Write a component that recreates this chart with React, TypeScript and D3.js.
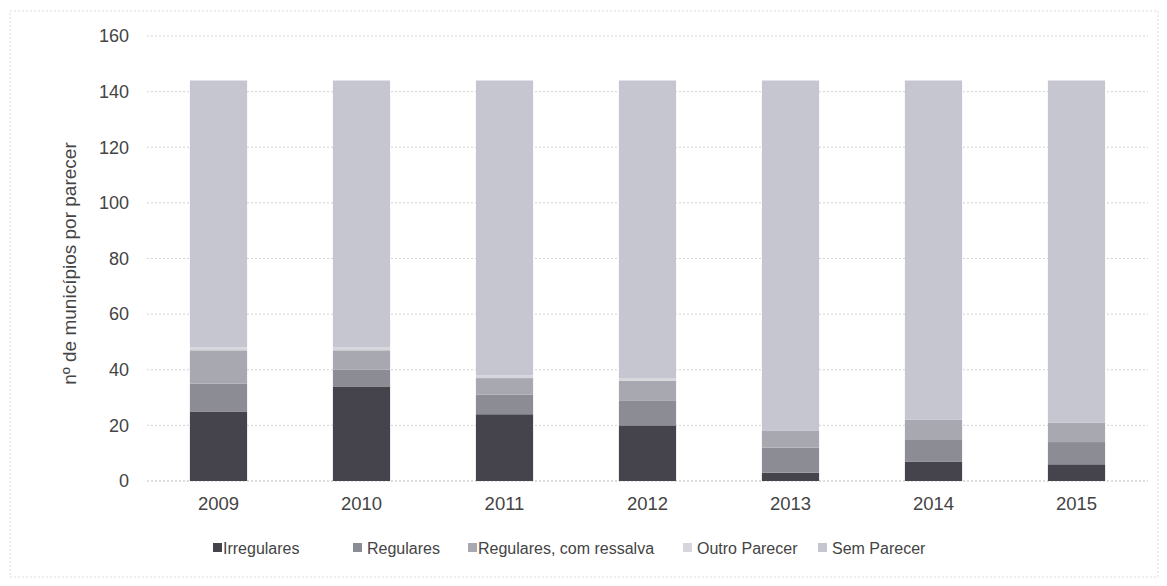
import React from 'react';
import * as d3 from 'd3';

const YEARS = ['2009', '2010', '2011', '2012', '2013', '2014', '2015'];
const SERIES = ['Irregulares', 'Regulares', 'Regulares, com ressalva', 'Outro Parecer', 'Sem Parecer'];
const IRREGULARES = [25, 34, 24, 20, 3, 7, 6];
const REGULARES = [10, 6, 7, 9, 9, 8, 8];
const RESSALVA = [12, 7, 6, 7, 6, 7, 7];
const OUTRO = [1, 1, 1, 1, 0, 0, 0];
const SEM_PARECER = [96, 96, 106, 107, 126, 122, 123];
const Y_TICKS = [0, 20, 40, 60, 80, 100, 120, 140, 160];
const COLORS = ['#45434c', '#8c8c94', '#a8a8b1', '#d6d6dc', '#c6c6d1'];

const W = 1167;
const H = 586;
const M = { left: 147, right: 1148, top: 36, bottom: 481 };

export default function App() {
  const rows = YEARS.map((year, i) => ({
    year,
    [SERIES[0]]: IRREGULARES[i],
    [SERIES[1]]: REGULARES[i],
    [SERIES[2]]: RESSALVA[i],
    [SERIES[3]]: OUTRO[i],
    [SERIES[4]]: SEM_PARECER[i],
  }));

  const x = d3.scaleBand().domain(YEARS).range([M.left, M.right]).paddingInner(0.6).paddingOuter(0.3);
  const y = d3.scaleLinear().domain([0, 160]).range([M.bottom, M.top]);
  const stacked = d3.stack<any>().keys(SERIES)(rows);
  const color = d3.scaleOrdinal<string>().domain(SERIES).range(COLORS);

  const font = "'Liberation Sans', Arial, sans-serif";
  const legendX = [213, 353, 468, 683, 818];

  return (
    <svg width={W} height={H} style={{ position: 'absolute', left: 0, top: 0, background: '#fff' }}>
      <rect x={10} y={11} width={1148} height={566} fill="none" stroke="#dcdcdc" strokeWidth={1} strokeDasharray="2 2" />
      {Y_TICKS.map(t => (
        <g key={t}>
          <line x1={M.left} x2={M.right} y1={y(t)} y2={y(t)}
            stroke={t === 0 ? '#bdbdbd' : '#d4d4d4'} strokeWidth={1} strokeDasharray="2 2" />
          <text x={129} y={y(t)} dy="0.35em" textAnchor="end" fontFamily={font} fontSize={18} fill="#444">{t}</text>
        </g>
      ))}
      {stacked.map(layer => (
        <g key={layer.key} fill={color(layer.key)}>
          {layer.map((d, i) => (
            <rect key={i} x={x(YEARS[i])} width={x.bandwidth()} y={y(d[1])} height={Math.max(0, y(d[0]) - y(d[1]))} />
          ))}
        </g>
      ))}
      {YEARS.map(yr => (
        <text key={yr} x={(x(yr) as number) + x.bandwidth() / 2} y={504} dy="0.35em" textAnchor="middle"
          fontFamily={font} fontSize={18.5} fill="#444">{yr}</text>
      ))}
      <text transform={`translate(76, ${(M.top + M.bottom) / 2 + 5}) rotate(-90)`} textAnchor="middle"
        fontFamily={font} fontSize={19} fill="#444">nº de municípios por parecer</text>
      {SERIES.map((s, i) => (
        <g key={s} transform={`translate(${legendX[i]}, 548)`}>
          <rect x={0} y={-5} width={9} height={9} fill={color(s)} />
          <text x={i === 0 || i === 2 ? 10 : 14} y={0} dy="0.35em" fontFamily={font} fontSize={16} fill="#444">{s}</text>
        </g>
      ))}
    </svg>
  );
}
